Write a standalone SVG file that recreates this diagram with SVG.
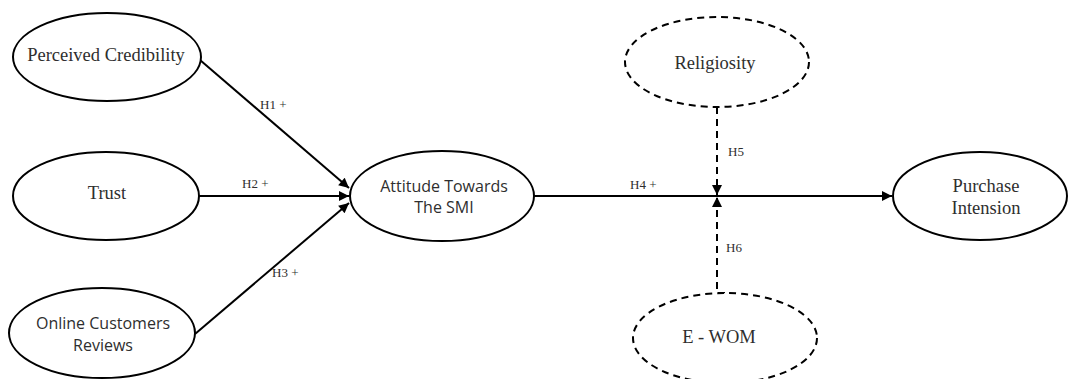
<svg xmlns="http://www.w3.org/2000/svg" width="1068" height="379" viewBox="0 0 1068 379">
<style>
.n{fill:#fff;stroke:#000;stroke-width:2}
.d{fill:#fff;stroke:#000;stroke-width:2;stroke-dasharray:7 5}
.s{font-family:"Liberation Serif","DejaVu Serif",serif;font-size:18.5px;fill:#2e2e2e;text-anchor:middle;dominant-baseline:central}
.a{font-family:"Open Sans","Liberation Sans",sans-serif;font-size:16px;fill:#2e2e2e;text-anchor:middle;dominant-baseline:central}
.l{font-family:"Liberation Serif","DejaVu Serif",serif;font-size:13px;fill:#2e2e2e}
.c{stroke:#000;stroke-width:2;fill:none}
.cd{stroke:#000;stroke-width:2;fill:none;stroke-dasharray:7 5}
</style>
<defs>
<marker id="ah" viewBox="0 0 10 10" refX="10" refY="5" markerWidth="6" markerHeight="5" orient="auto" markerUnits="strokeWidth">
<path d="M0,0 L10,5 L0,10 z" fill="#000"/>
</marker>
</defs>
<rect width="1068" height="379" fill="#fff"/>
<g id="connectors">
<line class="c" x1="200" y1="60" x2="349" y2="188" marker-end="url(#ah)"/>
<line class="c" x1="199" y1="196" x2="349" y2="196" marker-end="url(#ah)"/>
<line class="c" x1="195" y1="334" x2="349" y2="203" marker-end="url(#ah)"/>
<line class="c" x1="534" y1="196" x2="892" y2="196" marker-end="url(#ah)"/>
<line class="cd" x1="717" y1="107" x2="717" y2="195" marker-end="url(#ah)"/>
<polyline class="cd" points="725,293 717,293 717,197" marker-end="url(#ah)"/>
<text class="l" x="260" y="109">H1 +</text>
<text class="l" x="242" y="188">H2 +</text>
<text class="l" x="272" y="277">H3 +</text>
<text class="l" x="630" y="189">H4 +</text>
<text class="l" x="728" y="156">H5</text>
<text class="l" x="726" y="252">H6</text>
</g>
<g id="perceived-credibility">
<ellipse class="n" cx="107" cy="57" rx="94" ry="44"/>
<text class="s" x="106" y="55">Perceived Credibility</text>
</g>
<g id="trust">
<ellipse class="n" cx="106" cy="196" rx="93" ry="44"/>
<text class="s" x="107" y="193">Trust</text>
</g>
<g id="online-customers-reviews">
<ellipse class="n" cx="102" cy="333" rx="93" ry="45"/>
<text class="a" x="103" y="323">Online Customers</text>
<text class="a" x="103" y="345">Reviews</text>
</g>
<g id="attitude">
<ellipse class="n" cx="442" cy="196" rx="92" ry="45"/>
<text class="a" x="444" y="186">Attitude Towards</text>
<text class="a" x="444" y="207">The SMI</text>
</g>
<g id="purchase-intension">
<ellipse class="n" cx="980" cy="196" rx="87" ry="44"/>
<text class="s" x="986" y="186">Purchase</text>
<text class="s" x="986" y="208">Intension</text>
</g>
<g id="religiosity">
<ellipse class="d" cx="717" cy="62" rx="92" ry="45"/>
<text class="s" x="715" y="63">Religiosity</text>
</g>
<g id="e-wom">
<ellipse class="d" cx="725" cy="338" rx="92" ry="45"/>
<text class="s" x="719" y="337">E - WOM</text>
</g>
</svg>
